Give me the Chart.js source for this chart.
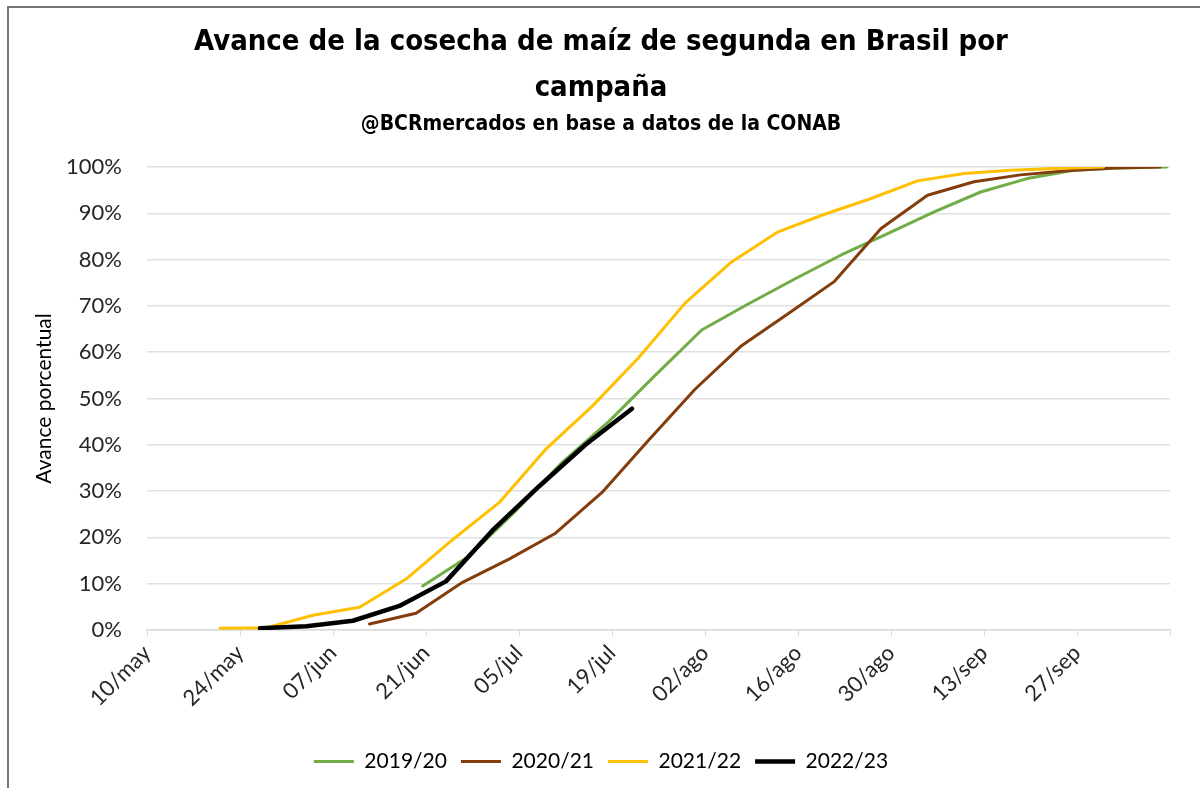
<!DOCTYPE html>
<html>
<head>
<meta charset="utf-8">
<script src="https://cdn.jsdelivr.net/npm/chart.js@4.4.0/dist/chart.umd.min.js"></script>
<style>
    body { margin: 0; background: #fff; }
    #wrap { position: relative; width: 1200px; height: 788px; }
    #marco {
        position: absolute; left: 7px; top: 6px; right: 0; bottom: 0;
        border-left: 2px solid #767676; border-top: 2px solid #767676;
        pointer-events: none;
    }
</style>
</head>
<body>
<div id="wrap">
    <canvas id="grafico" width="1200" height="788"></canvas>
    <div id="marco"></div>
</div>
<script>
// dias contados desde el 10/may, un dato por semana
var campanias = ["2019/20", "2020/21", "2021/22", "2022/23"];

var dias1920 = [41.5, 48.5, 55.5, 62.5, 69.5, 76.5, 83.5, 90.5, 97.5, 104.5, 111.5, 118.5, 125.5, 132.5, 139.5, 146.5, 153.5];
var avance1920 = [9.5, 16, 25.7, 36.2, 45, 55, 64.8, 70.4, 75.8, 81, 85.6, 90.3, 94.6, 97.5, 99.3, 99.8, 100];

var dias2021 = [33.5, 40.5, 47.5, 54.5, 61.5, 68.5, 75.5, 82.5, 89.5, 96.5, 103.5, 110.5, 117.5, 124.5, 131.5, 138.5, 145.5, 152.5];
var avance2021 = [1.3, 3.6, 10.3, 15.3, 20.9, 29.7, 41, 52, 61.4, 68.3, 75.3, 86.7, 93.9, 96.8, 98.3, 99.2, 99.8, 100];

var dias2122 = [11, 18, 25, 32, 39, 46, 53, 60, 67, 74, 81, 88, 95, 102, 109, 116, 123, 130, 137, 144];
var avance2122 = [0.4, 0.5, 3.2, 4.9, 11, 19.5, 27.5, 39, 48.3, 58.8, 70.6, 79.5, 86, 89.8, 93.2, 97, 98.6, 99.3, 99.7, 100];

var dias2223 = [17, 24, 31, 38, 45, 52, 59, 66, 73];
var avance2223 = [0.4, 0.8, 2, 5.2, 10.5, 21.5, 31, 40, 47.8];

var meses = ["ene", "feb", "mar", "abr", "may", "jun", "jul", "ago", "sep", "oct", "nov", "dic"];
var ultimoDia = 154;

function puntos(dias, valores) {
    return dias.map(function(d, i) { return { x: d, y: valores[i] }; });
}

function etiquetaFecha(dia) {
    if (dia >= ultimoDia) return "";
    var f = new Date(2022, 4, 10 + dia);
    var dd = f.getDate();
    return (dd < 10 ? "0" + dd : dd) + "/" + meses[f.getMonth()];
}

var fuente = "Lato, 'Open Sans', sans-serif";
var fuenteTitulo = "'DejaVu Sans Condensed', sans-serif";

var ctx = document.querySelector("#grafico").getContext("2d");

var grafico = new Chart(ctx, {
    type: 'line',
    data: {
        datasets: [
            {
                label: campanias[0],
                data: puntos(dias1920, avance1920),
                borderColor: "#70AD47",
                backgroundColor: "#70AD47",
                borderWidth: 3,
                order: 3
            },
            {
                label: campanias[1],
                data: puntos(dias2021, avance2021),
                borderColor: "#843C0C",
                backgroundColor: "#843C0C",
                borderWidth: 3,
                order: 2
            },
            {
                label: campanias[2],
                data: puntos(dias2122, avance2122),
                borderColor: "#FFC000",
                backgroundColor: "#FFC000",
                borderWidth: 3,
                order: 1
            },
            {
                label: campanias[3],
                data: puntos(dias2223, avance2223),
                borderColor: "#000000",
                backgroundColor: "#000000",
                borderWidth: 4.5,
                order: 0
            }
        ]
    },
    options: {
        responsive: false,
        animation: false,
        elements: {
            point: { radius: 0 },
            line: { tension: 0, borderJoinStyle: 'round', borderCapStyle: 'round' }
        },
        layout: {
            padding: { left: 32, right: 30, top: 0, bottom: 6 }
        },
        plugins: {
            title: {
                display: true,
                text: ["Avance de la cosecha de maíz de segunda en Brasil por", "campaña"],
                color: "#000",
                font: { family: fuenteTitulo, size: 29, weight: 'bold', lineHeight: 1.6 },
                padding: { top: 19, bottom: 0 }
            },
            subtitle: {
                display: true,
                text: "@BCRmercados en base a datos de la CONAB",
                color: "#000",
                font: { family: fuenteTitulo, size: 21, weight: 'bold', lineHeight: 1.2 },
                padding: { top: 0, bottom: 30 }
            },
            legend: {
                position: 'bottom',
                labels: {
                    usePointStyle: true,
                    pointStyle: 'line',
                    pointStyleWidth: 40,
                    color: "#000",
                    padding: 14,
                    font: { family: fuente, size: 21 },
                    sort: function(a, b) { return a.datasetIndex - b.datasetIndex; }
                }
            },
            tooltip: { enabled: false }
        },
        scales: {
            x: {
                type: 'linear',
                min: 0,
                max: ultimoDia,
                border: { display: true, color: "#d9d9d9", width: 1.5 },
                grid: { drawOnChartArea: false, color: "#d9d9d9", tickLength: 6 },
                ticks: {
                    stepSize: 14,
                    autoSkip: false,
                    maxRotation: 45,
                    minRotation: 45,
                    padding: 4,
                    color: "#262626",
                    font: { family: fuente, size: 22 },
                    callback: function(v) { return etiquetaFecha(v); }
                },
                afterFit: function(escala) { escala.height = 107; }
            },
            y: {
                min: 0,
                max: 100,
                border: { display: false },
                grid: { color: "#e0e0e0", lineWidth: 1.5, drawTicks: false },
                ticks: {
                    stepSize: 10,
                    padding: 25,
                    color: "#262626",
                    font: { family: fuente, size: 22 },
                    callback: function(v) { return v + "%"; }
                },
                title: {
                    display: true,
                    text: "Avance porcentual",
                    color: "#000",
                    font: { family: fuente, size: 21 },
                    padding: { top: 0, bottom: 0 }
                },
                afterFit: function(escala) { escala.width = 115; }
            }
        }
    }
});
</script>
</body>
</html>
